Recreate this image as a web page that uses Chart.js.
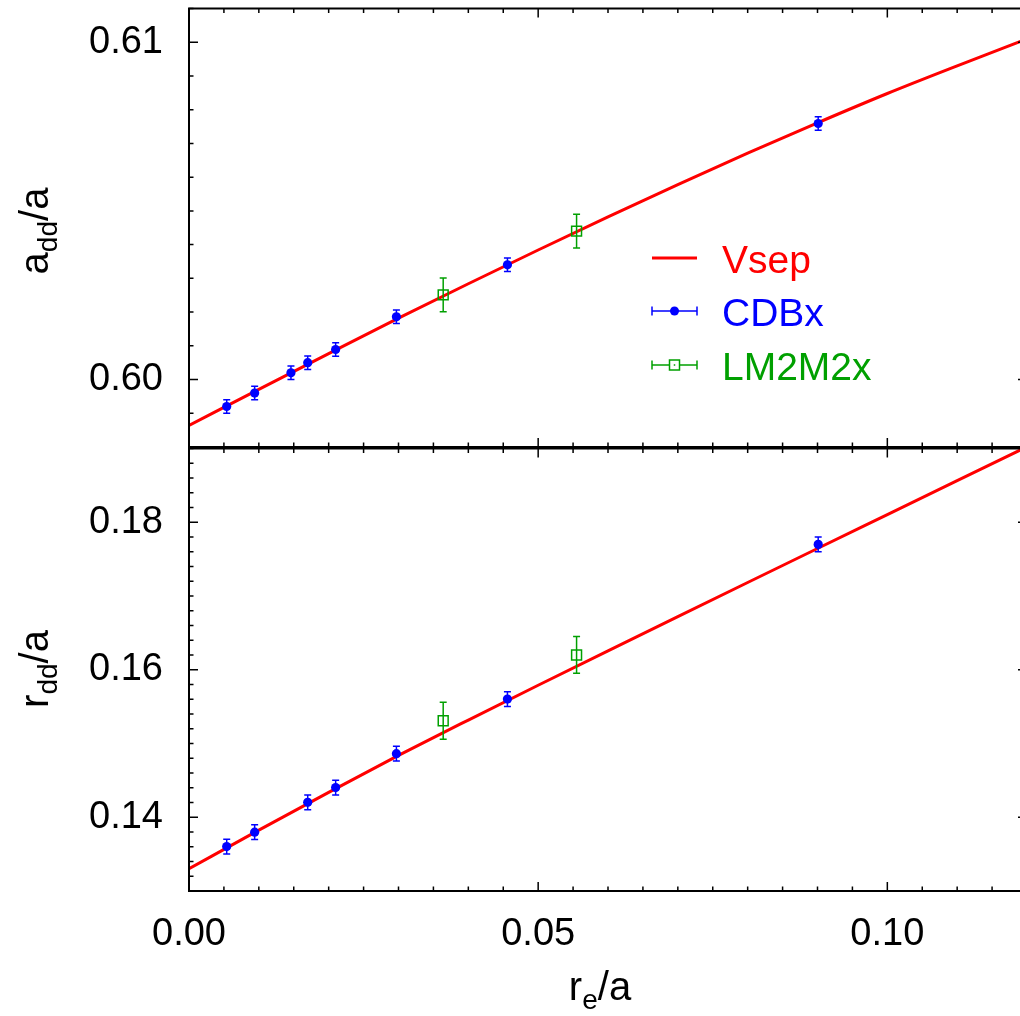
<!DOCTYPE html>
<html>
<head>
<meta charset="utf-8">
<script src="https://cdn.jsdelivr.net/npm/chart.js@4.4.1/dist/chart.umd.min.js"></script>
<style>
  html, body { margin: 0; padding: 0; background: #fff; }
  #wrap { position: relative; width: 1020px; height: 1016px; overflow: hidden; background: #fff; }
  #wrap canvas { position: absolute; left: 0; }
  #top { top: 0; }
  #bot { top: 440px; }
</style>
</head>
<body>
<div id="wrap">
  <canvas id="bot" width="1040" height="576"></canvas>
  <canvas id="top" width="1040" height="460"></canvas>
</div>
<script>
// ---------------- data ----------------
// CDBx points (same r_e/a for both panels, one missing in r_dd)
const cdbX      = [0.0054, 0.0094, 0.0146, 0.0170, 0.0210, 0.0297, 0.0456, 0.0901];
const addCdb    = [0.59920, 0.59960, 0.60020, 0.60050, 0.60089, 0.60186, 0.60340, 0.60759];
const addCdbErr = [0.0002, 0.0002, 0.0002, 0.0002, 0.0002, 0.0002, 0.0002, 0.0002];
const rddCdb    = [0.13603, 0.13797, null, 0.14203, 0.14402, 0.14862, 0.15602, 0.17700];
const rddCdbErr = [0.001, 0.001, 0.001, 0.001, 0.001, 0.001, 0.001, 0.001];

// LM2M2x points
const lmX      = [0.0364, 0.0555];
const addLm    = [0.60251, 0.60440];
const addLmErr = [0.0005, 0.0005];
const rddLm    = [0.15308, 0.16201];
const rddLmErr = [0.0025, 0.0025];

// Vsep curve
const curveX   = [0, 0.01, 0.02, 0.03, 0.04, 0.05, 0.06, 0.07, 0.08, 0.09, 0.10, 0.11, 0.12];
const addCurve = [0.59864, 0.59971, 0.60077, 0.60182, 0.60284, 0.60384, 0.60482, 0.60578,
                  0.60671, 0.60761, 0.60848, 0.60930, 0.61010];
const rddCurve = [0.13302, 0.13825, 0.14338, 0.14838, 0.15318, 0.15790, 0.16257, 0.16721,
                  0.17183, 0.17644, 0.18104, 0.18564, 0.19024];

// axes
const xRange   = [0, 0.12];
const xTicks   = [0, 0.05, 0.10];
const xMinor   = 0.005;
const addRange = [0.598, 0.611];
const addTicks = [0.60, 0.61];
const addMinor = 0.001;
const rddRange = [0.13, 0.19];
const rddTicks = [0.14, 0.16, 0.18];
const rddMinor = 0.002;

const RED = '#ff0000';
const BLUE = '#0000ff';
const GREEN = '#00a000';
const FONT = '"Liberation Sans", Arial, Helvetica, sans-serif';

Chart.defaults.font.family = FONT;
Chart.defaults.color = '#000';

function pts(xs, ys) {
  return xs.map((x, i) => ({ x: x, y: ys[i] }));
}

function tickList(range, step) {
  const out = [];
  const n = Math.round((range[1] - range[0]) / step);
  for (let i = 0; i <= n; i++) out.push(range[0] + i * step);
  return out;
}

function isMajor(v, majors) {
  return majors.some(m => Math.abs(m - v) < 1e-9);
}

// text with a subscript part, optionally rotated
function drawSubText(ctx, parts, x, y, rot, size) {
  ctx.save();
  ctx.translate(x, y);
  ctx.rotate(rot);
  ctx.fillStyle = '#000';
  ctx.textBaseline = 'alphabetic';
  ctx.textAlign = 'left';
  let total = 0;
  parts.forEach(p => {
    ctx.font = (p.sub ? Math.round(size * 0.7) : size) + 'px ' + FONT;
    p.w = ctx.measureText(p.t).width;
    total += p.w;
  });
  let cx = -total / 2;
  parts.forEach(p => {
    ctx.font = (p.sub ? Math.round(size * 0.7) : size) + 'px ' + FONT;
    ctx.fillText(p.t, cx, p.sub ? size * 0.22 : 0);
    cx += p.w;
  });
  ctx.restore();
}

// gnuplot-like frame, inward ticks and error bars
const panelDeco = {
  id: 'panelDeco',
  afterDatasetsDraw(chart) {
    const ctx = chart.ctx, xs = chart.scales.x, ys = chart.scales.y;
    ctx.save();
    ctx.beginPath();
    ctx.rect(chart.chartArea.left, chart.chartArea.top,
             chart.chartArea.right - chart.chartArea.left, chart.chartArea.bottom - chart.chartArea.top);
    ctx.clip();
    chart.data.datasets.forEach(ds => {
      if (!ds.errors) return;
      ctx.strokeStyle = ds.borderColor;
      ctx.lineWidth = 1.5;
      ds.data.forEach((p, j) => {
        if (p.y == null) return;
        const e = ds.errors[j];
        const px = xs.getPixelForValue(p.x);
        const y1 = ys.getPixelForValue(p.y - e);
        const y2 = ys.getPixelForValue(p.y + e);
        ctx.beginPath();
        ctx.moveTo(px, y1); ctx.lineTo(px, y2);
        ctx.moveTo(px - 3.5, y1); ctx.lineTo(px + 3.5, y1);
        ctx.moveTo(px - 3.5, y2); ctx.lineTo(px + 3.5, y2);
        ctx.stroke();
      });
    });
    ctx.restore();
  },
  afterDraw(chart, args, opts) {
    const ctx = chart.ctx, a = chart.chartArea, xs = chart.scales.x, ys = chart.scales.y;
    ctx.save();
    ctx.strokeStyle = '#000';
    ctx.lineWidth = 1.5;
    ctx.beginPath();
    tickList(xRange, xMinor).forEach(v => {
      const px = xs.getPixelForValue(v);
      const len = isMajor(v, xTicks) ? 9 : 4.5;
      ctx.moveTo(px, a.bottom); ctx.lineTo(px, a.bottom - len);
      ctx.moveTo(px, a.top); ctx.lineTo(px, a.top + len);
    });
    tickList(opts.range, opts.minor).forEach(v => {
      const py = ys.getPixelForValue(v);
      const len = isMajor(v, opts.majors) ? 9 : 4.5;
      ctx.moveTo(a.left, py); ctx.lineTo(a.left + len, py);
      ctx.moveTo(a.right, py); ctx.lineTo(a.right - len, py);
    });
    ctx.stroke();
    ctx.lineWidth = 2;
    ctx.strokeRect(a.left, a.top, a.right - a.left, a.bottom - a.top);
    ctx.restore();

    opts.titles.forEach(t => drawSubText(ctx, t.parts, t.x, t.y, t.rot, 40));
    if (opts.legend) drawLegend(ctx);
  }
};

function drawLegend(ctx) {
  const x0 = 652, x1 = 697, xm = 674.5, tx = 722;
  const rows = [
    { label: 'Vsep', color: RED, y: 258, kind: 'line' },
    { label: 'CDBx', color: BLUE, y: 311, kind: 'dot' },
    { label: 'LM2M2x', color: GREEN, y: 365, kind: 'square' }
  ];
  ctx.save();
  rows.forEach(r => {
    ctx.strokeStyle = r.color;
    ctx.fillStyle = r.color;
    if (r.kind === 'line') {
      ctx.lineWidth = 3;
      ctx.beginPath(); ctx.moveTo(x0, r.y); ctx.lineTo(x1, r.y); ctx.stroke();
    } else {
      ctx.lineWidth = 1.5;
      ctx.beginPath();
      ctx.moveTo(x0, r.y); ctx.lineTo(x1, r.y);
      ctx.moveTo(x0, r.y - 4.5); ctx.lineTo(x0, r.y + 4.5);
      ctx.moveTo(x1, r.y - 4.5); ctx.lineTo(x1, r.y + 4.5);
      ctx.stroke();
      if (r.kind === 'dot') {
        ctx.beginPath(); ctx.arc(xm, r.y, 4.5, 0, Math.PI * 2); ctx.fill();
      } else {
        ctx.fillStyle = '#fff';
        ctx.fillRect(xm - 5, r.y - 5, 10, 10);
        ctx.strokeRect(xm - 5, r.y - 5, 10, 10);
        ctx.fillStyle = r.color;
        ctx.fillRect(xm - 0.75, r.y - 0.75, 1.5, 1.5);
      }
    }
    ctx.fillStyle = r.color;
    ctx.font = '39px ' + FONT;
    ctx.textAlign = 'left';
    ctx.textBaseline = 'alphabetic';
    ctx.fillText(r.label, tx, r.y + 15);
  });
  ctx.restore();
}

function datasets(cdbY, cdbErr, lmY, lmErr, curveY) {
  return [
    {
      label: 'CDBx', data: pts(cdbX, cdbY), errors: cdbErr,
      backgroundColor: BLUE, borderColor: BLUE, pointRadius: 4.6, pointBorderWidth: 0
    },
    {
      label: 'LM2M2x', data: pts(lmX, lmY), errors: lmErr, pointStyle: 'rect',
      backgroundColor: 'rgba(0,0,0,0)', borderColor: GREEN, pointRadius: 7, pointBorderWidth: 1.5
    },
    {
      label: 'Vsep', data: pts(curveX, curveY), showLine: true, borderColor: RED,
      borderWidth: 3, pointRadius: 0, cubicInterpolationMode: 'monotone', fill: false
    }
  ];
}

// axis paddings for end labels would shrink the plot area, so drop them
function noPad(s) {
  s.paddingTop = 0; s.paddingBottom = 0; s.paddingLeft = 0; s.paddingRight = 0;
}

function yScale(range, majors, width) {
  return {
    type: 'linear', min: range[0], max: range[1],
    grid: { display: false, drawTicks: false }, border: { display: false },
    afterBuildTicks: s => { s.ticks = majors.map(v => ({ value: v })); },
    ticks: { padding: 26, color: '#000', font: { size: 38 }, callback: v => v.toFixed(2) },
    afterFit: s => { s.width = width; noPad(s); }
  };
}

// ---------------- top panel: a_dd/a ----------------
new Chart(document.getElementById('top'), {
  type: 'scatter',
  data: { datasets: datasets(addCdb, addCdbErr, addLm, addLmErr, addCurve) },
  options: {
    responsive: false, animation: false, events: [],
    layout: { padding: { left: 0, top: 6, right: 13, bottom: 0 } },
    plugins: {
      legend: { display: false }, tooltip: { enabled: false },
      panelDeco: {
        range: addRange, minor: addMinor, majors: addTicks, legend: true,
        titles: [{ parts: [{ t: 'a' }, { t: 'dd', sub: true }, { t: '/a' }], x: 48, y: 231, rot: -Math.PI / 2 }]
      }
    },
    scales: {
      x: {
        type: 'linear', min: xRange[0], max: xRange[1],
        grid: { display: false, drawTicks: false }, border: { display: false },
        ticks: { display: false },
        afterFit: s => { s.height = 13; noPad(s); }
      },
      y: yScale(addRange, addTicks, 189)
    }
  },
  plugins: [panelDeco]
});

// ---------------- bottom panel: r_dd/a ----------------
new Chart(document.getElementById('bot'), {
  type: 'scatter',
  data: { datasets: datasets(rddCdb, rddCdbErr, rddLm, rddLmErr, rddCurve) },
  options: {
    responsive: false, animation: false, events: [],
    layout: { padding: { left: 0, top: 7, right: 13, bottom: 0 } },
    plugins: {
      legend: { display: false }, tooltip: { enabled: false },
      panelDeco: {
        range: rddRange, minor: rddMinor, majors: rddTicks, legend: false,
        titles: [
          { parts: [{ t: 'r' }, { t: 'dd', sub: true }, { t: '/a' }], x: 48, y: 229, rot: -Math.PI / 2 },
          { parts: [{ t: 'r' }, { t: 'e', sub: true }, { t: '/a' }], x: 600, y: 560, rot: 0 }
        ]
      }
    },
    scales: {
      x: {
        type: 'linear', min: xRange[0], max: xRange[1],
        grid: { display: false, drawTicks: false }, border: { display: false },
        afterBuildTicks: s => { s.ticks = xTicks.map(v => ({ value: v })); },
        ticks: { padding: 21, color: '#000', font: { size: 38 }, maxRotation: 0, callback: v => v.toFixed(2) },
        afterFit: s => { s.height = 125; noPad(s); }
      },
      y: yScale(rddRange, rddTicks, 189)
    }
  },
  plugins: [panelDeco]
});
</script>
</body>
</html>
